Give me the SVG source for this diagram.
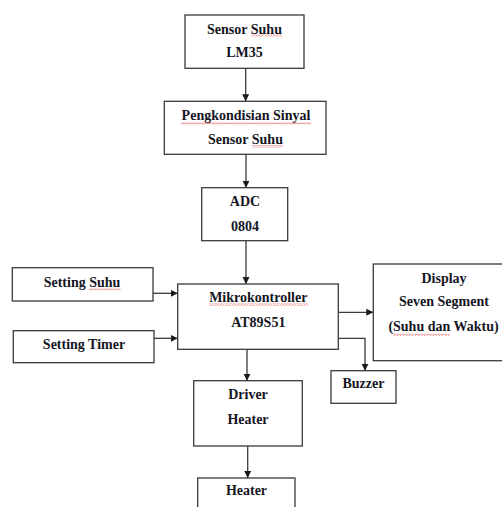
<svg xmlns="http://www.w3.org/2000/svg" width="502" height="507" viewBox="0 0 502 507">
<style>
.box{fill:#fff;stroke:#3a3a3a;stroke-width:1.3}
.t{font-family:"Liberation Serif","Times New Roman",serif;font-weight:bold;font-size:14px;fill:#15151f;text-anchor:middle}
.c{fill:none;stroke:#3a3a3a;stroke-width:1.3}
.sq{fill:url(#wave)}
</style>
<defs>
<marker id="ah" markerUnits="userSpaceOnUse" markerWidth="8" markerHeight="8" viewBox="0 0 8 8" refX="7" refY="4" orient="auto">
<path d="M0,0.5 L7,4 L0,7.5 Z" fill="#1a1a1a"/>
</marker>
<pattern id="wave" patternUnits="userSpaceOnUse" width="3" height="2.4">
<path d="M0,0.4 L1.5,2 L3,0.4" fill="none" stroke="#e04848" stroke-width="0.7"/>
</pattern>
</defs>
<rect width="502" height="507" fill="#fff"/>
<g id="connectors">
<line class="c" x1="245.7" y1="68.3" x2="245.7" y2="101.3" marker-end="url(#ah)"/>
<line class="c" x1="246" y1="154.3" x2="246" y2="187.7" marker-end="url(#ah)"/>
<line class="c" x1="246" y1="240.7" x2="246" y2="284" marker-end="url(#ah)"/>
<line class="c" x1="153" y1="293.3" x2="177.7" y2="293.3" marker-end="url(#ah)"/>
<line class="c" x1="154" y1="338.3" x2="177.7" y2="338.3" marker-end="url(#ah)"/>
<line class="c" x1="338.3" y1="312.3" x2="373.3" y2="312.3" marker-end="url(#ah)"/>
<polyline class="c" points="338.3,338.3 365,338.3 365,370.7" marker-end="url(#ah)"/>
<line class="c" x1="247" y1="349.3" x2="247" y2="380.7" marker-end="url(#ah)"/>
<line class="c" x1="247.7" y1="446" x2="247.7" y2="478" marker-end="url(#ah)"/>
</g>
<g id="sensor-suhu">
<rect class="box" x="185" y="15" width="119" height="53.3"/>
<text class="t" x="244.5" y="33.5">Sensor Suhu</text>
<rect class="sq" x="251" y="34.5" width="31" height="2.4"/>
<text class="t" x="244.5" y="57">LM35</text>
</g>
<g id="pengkondisian">
<rect class="box" x="164.3" y="101.3" width="161.7" height="53"/>
<text class="t" x="246" y="120">Pengkondisian Sinyal</text>
<rect class="sq" x="181" y="122" width="130" height="2.4"/>
<text class="t" x="245.5" y="144">Sensor Suhu</text>
<rect class="sq" x="252" y="145" width="31" height="2.4"/>
</g>
<g id="adc">
<rect class="box" x="201.7" y="187.7" width="86" height="53"/>
<text class="t" x="245" y="206">ADC</text>
<text class="t" x="245" y="230.5">0804</text>
</g>
<g id="setting-suhu">
<rect class="box" x="12.3" y="267.7" width="140.7" height="33.3"/>
<text class="t" x="82" y="286.5">Setting Suhu</text>
<rect class="sq" x="89" y="288" width="31.5" height="2.4"/>
</g>
<g id="setting-timer">
<rect class="box" x="13.3" y="330.7" width="140.7" height="32"/>
<text class="t" x="84" y="348.5">Setting Timer</text>
</g>
<g id="mikrokontroller">
<rect class="box" x="177.7" y="284" width="160.6" height="65.3"/>
<text class="t" x="258.3" y="302">Mikrokontroller</text>
<rect class="sq" x="209" y="303.5" width="99" height="2.4"/>
<text class="t" x="258.3" y="327">AT89S51</text>
</g>
<g id="display">
<rect class="box" x="373.3" y="264" width="130" height="96.7"/>
<text class="t" x="444" y="282.7">Display</text>
<text class="t" x="444" y="306">Seven Segment</text>
<text class="t" x="443.5" y="331">(Suhu dan Waktu)</text>
<rect class="sq" x="393" y="333.5" width="57" height="2.4"/>
</g>
<g id="buzzer">
<rect class="box" x="331" y="370.7" width="65" height="32.6"/>
<text class="t" x="363.5" y="388.3">Buzzer</text>
</g>
<g id="driver-heater">
<rect class="box" x="193.7" y="380.7" width="108.6" height="65.3"/>
<text class="t" x="248" y="399.3">Driver</text>
<text class="t" x="248" y="424.3">Heater</text>
</g>
<g id="heater">
<rect class="box" x="197.7" y="478" width="97.3" height="40"/>
<text class="t" x="246.5" y="495">Heater</text>
</g>
</svg>
